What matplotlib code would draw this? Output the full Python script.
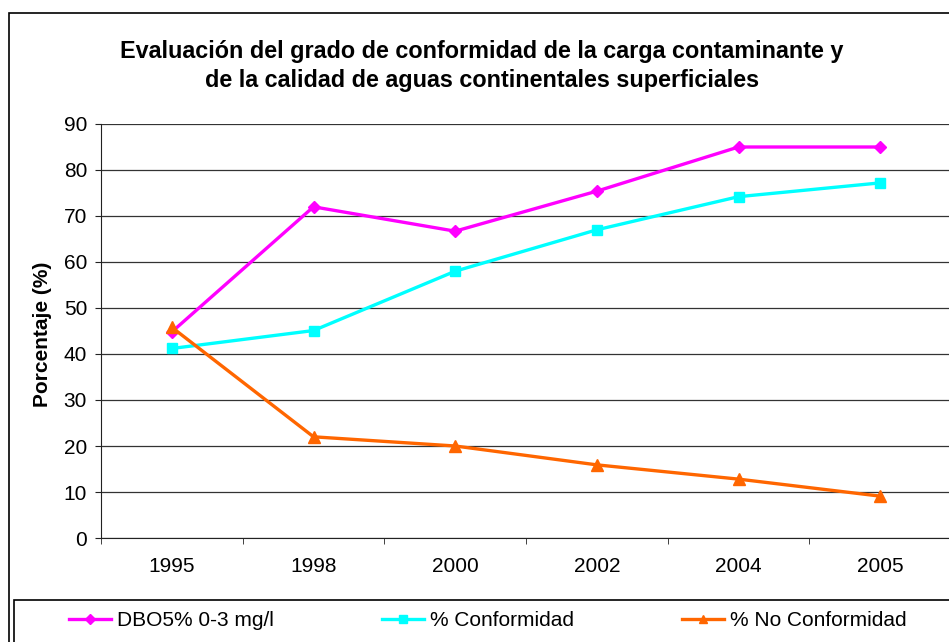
import numpy as np
import matplotlib
matplotlib.use("Agg")
from matplotlib import pyplot as plt
from matplotlib.patches import Rectangle

plt.rcParams['font.family'] = ['Liberation Sans', 'DejaVu Sans']

years = ["1995", "1998", "2000", "2002", "2004", "2005"]
dbo5 = [44.8, 72.0, 66.7, 75.4, 85.0, 85.0]
conformidad = [41.2, 45.1, 58.0, 67.0, 74.2, 77.2]
no_conformidad = [45.8, 22.0, 20.0, 15.9, 12.8, 9.1]

title = ("Evaluación del grado de conformidad de la carga contaminante y\n"
         "de la calidad de aguas continentales superficiales")

W, H = 949, 642


def draw():
    fig = plt.figure(figsize=(W / 100, H / 100), dpi=100)
    fig.patch.set_facecolor("white")

    # outer chart border (Excel chart area), partly cut off
    fig.patches.append(Rectangle((9 / W, -0.1), 1.1, 1 - 13 / H + 0.1,
                                 transform=fig.transFigure, fill=False,
                                 edgecolor="black", linewidth=1.2))

    ax = fig.add_axes([101 / W, 1 - 538 / H, 850 / W, 414 / H])
    x = np.arange(len(years))
    l1, = ax.plot(x, dbo5, color="#FF00FF", lw=2.4, marker="D", ms=6.5,
                  label="DBO5% 0-3 mg/l", clip_on=False, zorder=3)
    l2, = ax.plot(x, conformidad, color="#00FFFF", lw=2.4, marker="s", ms=6.5,
                  label="% Conformidad", clip_on=False, zorder=3)
    l3, = ax.plot(x, no_conformidad, color="#FF6600", lw=2.4, marker="^", ms=8,
                  label="% No Conformidad", clip_on=False, zorder=4)

    ax.set_xlim(-0.5, len(years) - 0.5)
    ax.set_ylim(0, 90)
    ax.set_yticks(range(0, 91, 10))
    ax.yaxis.grid(True, color="#333333", lw=0.9)
    ax.set_axisbelow(True)
    for s in ["top", "right"]:
        ax.spines[s].set_visible(False)
    ax.spines["left"].set_color("#222222")
    ax.spines["bottom"].set_color("#222222")

    ax.set_xticks(x)
    ax.set_xticklabels(years)
    ax.set_xticks(np.arange(-0.5, len(years)), minor=True)
    ax.tick_params(axis="x", which="major", length=0, pad=14, labelsize=15)
    ax.tick_params(axis="x", which="minor", length=4, direction="out",
                   color="#222222")
    ax.tick_params(axis="y", length=4, direction="out", pad=6, labelsize=15,
                   color="#222222")

    fig.text(482 / W, 1 - 66 / H, title, ha="center", va="center",
             fontsize=16.8, fontweight="bold", linespacing=1.35)
    fig.text(43 / W, 1 - 334 / H, "Porcentaje (%)", ha="center", va="center",
             rotation=90, fontsize=15, fontweight="bold")

    # legend box
    fig.patches.append(Rectangle((14 / W, -0.1), 1.1, 0.1 + 1 - 600 / H,
                                 transform=fig.transFigure, fill=False,
                                 edgecolor="black", linewidth=1.2))
    fig.legend(handles=[l1, l2, l3], loc="center left", ncol=3,
               bbox_to_anchor=(69 / W, 1 - 621 / H), frameon=False,
               borderpad=0, borderaxespad=0, fontsize=15,
               handlelength=2.0, handletextpad=0.3, columnspacing=5.2,
               markerscale=0.8)

    fig.savefig("out.png", dpi=100)


if __name__ == "__main__":
    draw()
